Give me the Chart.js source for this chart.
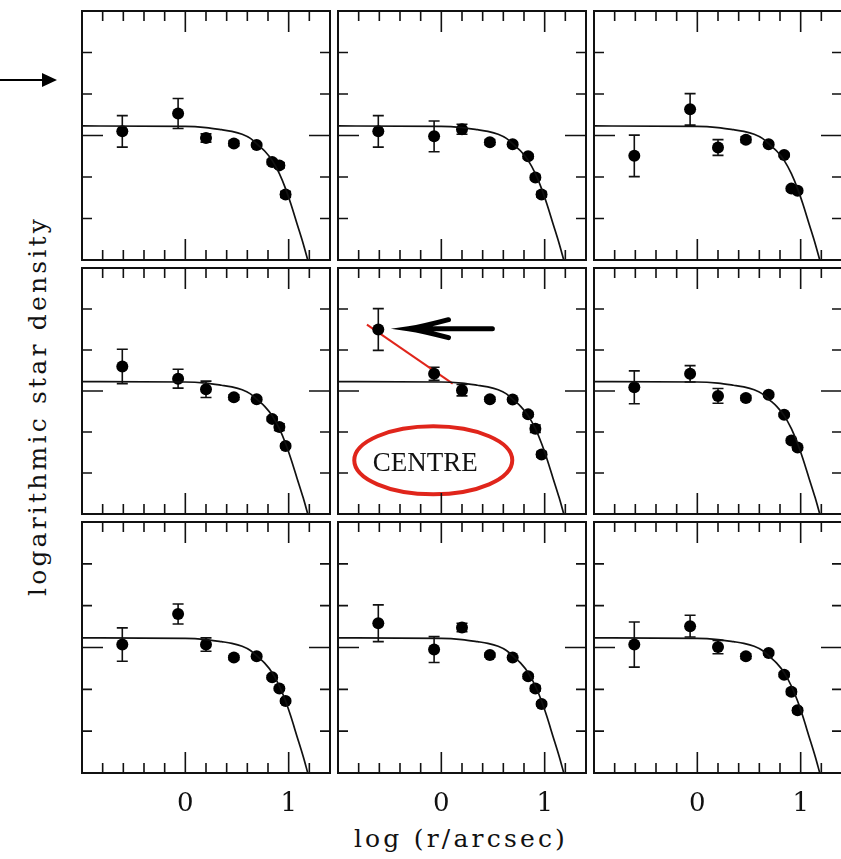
<!DOCTYPE html>
<html>
<head>
<meta charset="utf-8">
<script src="https://cdn.jsdelivr.net/npm/chart.js@4.4.1/dist/chart.umd.min.js"></script>
<style>
  html, body { margin: 0; padding: 0; background: #fff; }
  body { width: 841px; height: 859px; overflow: hidden; position: relative; }
  .panel { position: absolute; }
  .lbl { position: absolute; color: #111; white-space: nowrap; font-family: "DejaVu Serif", serif; font-size: 25px; letter-spacing: 3.2px; }
  #arrowOut { position: absolute; left: 0; top: 70px; }
</style>
</head>
<body>

<svg id="arrowOut" width="60" height="20">
  <line x1="0" y1="10" x2="44" y2="10" stroke="#000" stroke-width="1.8"/>
  <polygon points="42,3 57,10 42,17" fill="#000"/>
</svg>

<div class="lbl" style="left:37px; top:406px; transform: translate(-50%,-50%) rotate(-90deg);">logarithmic star density</div>
<div class="lbl" style="left:461px; top:838px; transform: translate(-50%,-50%);">log (r/arcsec)</div>

<script>
// radial bins, log (r/arcsec)
const radii = [-0.61, -0.07, 0.20, 0.47, 0.69, 0.84, 0.91, 0.97];

// log star density per field (read left-to-right, top-to-bottom) and 1-sigma errors
const dens1 = [3.10, 3.53, 2.94, 2.81, 2.77, 2.36, 2.28, 1.58];
const err1  = [0.38, 0.36, 0.10, 0.06, 0.04, 0.06, 0.06, 0.07];
const dens2 = [3.10, 2.98, 3.15, 2.84, 2.79, 2.50, 1.99, 1.58];
const err2  = [0.38, 0.37, 0.12, 0.06, 0.04, 0.05, 0.05, 0.06];
const dens3 = [2.51, 3.63, 2.71, 2.90, 2.79, 2.53, 1.72, 1.67];
const err3  = [0.50, 0.38, 0.19, 0.07, 0.04, 0.04, 0.05, 0.05];
const dens4 = [3.60, 3.30, 3.04, 2.85, 2.80, 2.32, 2.12, 1.66];
const err4  = [0.42, 0.23, 0.20, 0.06, 0.04, 0.05, 0.08, 0.05];
const dens5 = [4.50, 3.42, 3.02, 2.80, 2.79, 2.43, 2.08, 1.45];
const err5  = [0.51, 0.16, 0.14, 0.05, 0.04, 0.05, 0.09, 0.06];
const dens6 = [3.09, 3.42, 2.88, 2.83, 2.91, 2.42, 1.79, 1.62];
const err6  = [0.40, 0.20, 0.18, 0.06, 0.05, 0.04, 0.05, 0.05];
const dens7 = [3.07, 3.80, 3.07, 2.76, 2.79, 2.29, 2.02, 1.72];
const err7  = [0.40, 0.24, 0.16, 0.05, 0.04, 0.04, 0.04, 0.05];
const dens8 = [3.58, 2.95, 3.48, 2.82, 2.76, 2.31, 2.02, 1.65];
const err8  = [0.44, 0.31, 0.10, 0.05, 0.04, 0.05, 0.06, 0.05];
const dens9 = [3.07, 3.51, 3.01, 2.79, 2.87, 2.35, 1.94, 1.50];
const err9  = [0.54, 0.26, 0.16, 0.06, 0.05, 0.05, 0.06, 0.05];

// fitted profile (same in every panel)
const fitX = [-1.0, 0.0, 0.20, 0.35, 0.45, 0.55, 0.63, 0.70, 0.77, 0.84, 0.91, 0.97, 1.02, 1.08, 1.14, 1.185];
const fitY = [3.23, 3.22, 3.19, 3.14, 3.10, 3.03, 2.93, 2.78, 2.62, 2.40, 2.08, 1.72, 1.36, 0.88, 0.40, 0.0];

// tick marks
const xTicks = [-0.8, -0.6, -0.4, -0.2, 0, 0.2, 0.4, 0.6, 0.8, 1, 1.2];
const xMajor = [0, 1];
const xTickLabels = ['0', '1'];
const yTicks = [1, 2, 3, 4, 5];
const yMajor = [3];

// centre panel: red slope line and arrow
const slopeX = [-0.72, 0.11];
const slopeY = [4.62, 3.18];
const arrowX = [-0.318, 0.494];
const arrowY = 4.52;
const ellipseX = -0.078, ellipseY = 1.31;

const densSets = [dens1, dens2, dens3, dens4, dens5, dens6, dens7, dens8, dens9];
const errSets  = [err1, err2, err3, err4, err5, err6, err7, err8, err9];

// page layout
const colLeft = [78, 334, 590];
const rowTop = [7, 264, 518];
const rowH = [257, 254, 255];
const panelW = 256;
const labelRoom = 44;

const framePlugin = {
    id: 'frame',
    afterDraw(chart, args, opts) {
        const { ctx, chartArea: a, scales: { x, y } } = chart;
        ctx.save();
        ctx.strokeStyle = '#111';
        ctx.lineWidth = 1.6;
        ctx.beginPath();
        xTicks.forEach(v => {
            const px = x.getPixelForValue(v);
            const len = xMajor.includes(v) ? 21 : 10;
            ctx.moveTo(px, a.top); ctx.lineTo(px, a.top + len);
            ctx.moveTo(px, a.bottom); ctx.lineTo(px, a.bottom - len);
        });
        yTicks.forEach(v => {
            const py = y.getPixelForValue(v);
            const len = yMajor.includes(v) ? 21 : 10;
            ctx.moveTo(a.left, py); ctx.lineTo(a.left + len, py);
            ctx.moveTo(a.right, py); ctx.lineTo(a.right - len, py);
        });
        ctx.stroke();
        ctx.lineWidth = 2;
        ctx.strokeRect(a.left, a.top, a.width, a.height);
        if (opts.labels) {
            ctx.fillStyle = '#111';
            ctx.font = '26px "DejaVu Serif", serif';
            ctx.textAlign = 'center';
            ctx.textBaseline = 'middle';
            xMajor.forEach((v, i) => ctx.fillText(xTickLabels[i], x.getPixelForValue(v), a.bottom + 31));
        }
        ctx.restore();
    }
};

const errorBarPlugin = {
    id: 'errbars',
    beforeDatasetsDraw(chart, args, opts) {
        const { ctx, scales: { y } } = chart;
        const meta = chart.getDatasetMeta(1);
        ctx.save();
        ctx.strokeStyle = '#111';
        ctx.lineWidth = 1.6;
        ctx.beginPath();
        meta.data.forEach((pt, i) => {
            const hi = y.getPixelForValue(opts.dens[i] + opts.err[i]);
            const lo = y.getPixelForValue(opts.dens[i] - opts.err[i]);
            ctx.moveTo(pt.x, hi); ctx.lineTo(pt.x, lo);
            ctx.moveTo(pt.x - 5.5, hi); ctx.lineTo(pt.x + 5.5, hi);
            ctx.moveTo(pt.x - 5.5, lo); ctx.lineTo(pt.x + 5.5, lo);
        });
        ctx.stroke();
        ctx.restore();
    }
};

const centrePlugin = {
    id: 'centre',
    afterDatasetsDraw(chart) {
        const { ctx, scales: { x, y } } = chart;
        ctx.save();
        // black arrow pointing at the innermost bin
        const tipX = x.getPixelForValue(arrowX[0]);
        const endX = x.getPixelForValue(arrowX[1]);
        const ay = y.getPixelForValue(arrowY);
        ctx.strokeStyle = '#000';
        ctx.lineWidth = 5;
        ctx.lineCap = 'round';
        ctx.beginPath();
        ctx.moveTo(tipX, ay); ctx.lineTo(endX, ay);
        ctx.moveTo(tipX + 40, ay - 9); ctx.quadraticCurveTo(tipX + 14, ay - 2, tipX, ay);
        ctx.quadraticCurveTo(tipX + 14, ay + 2, tipX + 40, ay + 9);
        ctx.stroke();
        // red ellipse with label
        const ex = x.getPixelForValue(ellipseX);
        const ey = y.getPixelForValue(ellipseY);
        ctx.strokeStyle = '#e0251b';
        ctx.lineWidth = 4;
        ctx.beginPath();
        ctx.ellipse(ex, ey, 79, 34, 0, 0, Math.PI * 2);
        ctx.stroke();
        ctx.fillStyle = '#111';
        ctx.font = '27px "Liberation Serif", serif';
        ctx.textAlign = 'center';
        ctx.textBaseline = 'middle';
        ctx.fillText('CENTRE', ex - 8, ey + 4);
        ctx.restore();
    }
};

densSets.forEach((dens, k) => {
    const row = Math.floor(k / 3), col = k % 3;
    const extra = row === 2 ? labelRoom : 0;
    const box = document.createElement('div');
    box.className = 'panel';
    box.style.left = (colLeft[col] - 2) + 'px';
    box.style.top = (rowTop[row] - 2) + 'px';
    box.style.width = (panelW + 4) + 'px';
    box.style.height = (rowH[row] + 4 + extra) + 'px';
    const canvas = document.createElement('canvas');
    box.appendChild(canvas);
    document.body.appendChild(box);

    const datasets = [
        {
            data: fitX.map((v, i) => ({ x: v, y: fitY[i] })),
            showLine: true,
            borderColor: '#111',
            borderWidth: 1.7,
            pointRadius: 0,
            cubicInterpolationMode: 'monotone'
        },
        {
            data: radii.map((v, i) => ({ x: v, y: dens[i] })),
            showLine: false,
            pointRadius: 6,
            pointBackgroundColor: '#000',
            pointBorderWidth: 0
        }
    ];
    if (k === 4) {
        datasets.push({
            data: slopeX.map((v, i) => ({ x: v, y: slopeY[i] })),
            showLine: true,
            borderColor: '#e0251b',
            borderWidth: 2,
            pointRadius: 0
        });
    }

    new Chart(canvas.getContext('2d'), {
        type: 'scatter',
        data: { datasets: datasets },
        options: {
            responsive: true,
            maintainAspectRatio: false,
            animation: false,
            events: [],
            layout: { padding: { left: 2, right: 2, top: 2, bottom: 2 + extra } },
            plugins: {
                legend: { display: false },
                tooltip: { enabled: false },
                frame: { labels: row === 2 },
                errbars: { dens: dens, err: errSets[k] }
            },
            scales: {
                x: { type: 'linear', min: -1, max: 1.4, display: false },
                y: { type: 'linear', min: 0, max: 6, display: false }
            }
        },
        plugins: k === 4 ? [errorBarPlugin, framePlugin, centrePlugin] : [errorBarPlugin, framePlugin]
    });
});
</script>
</body>
</html>
